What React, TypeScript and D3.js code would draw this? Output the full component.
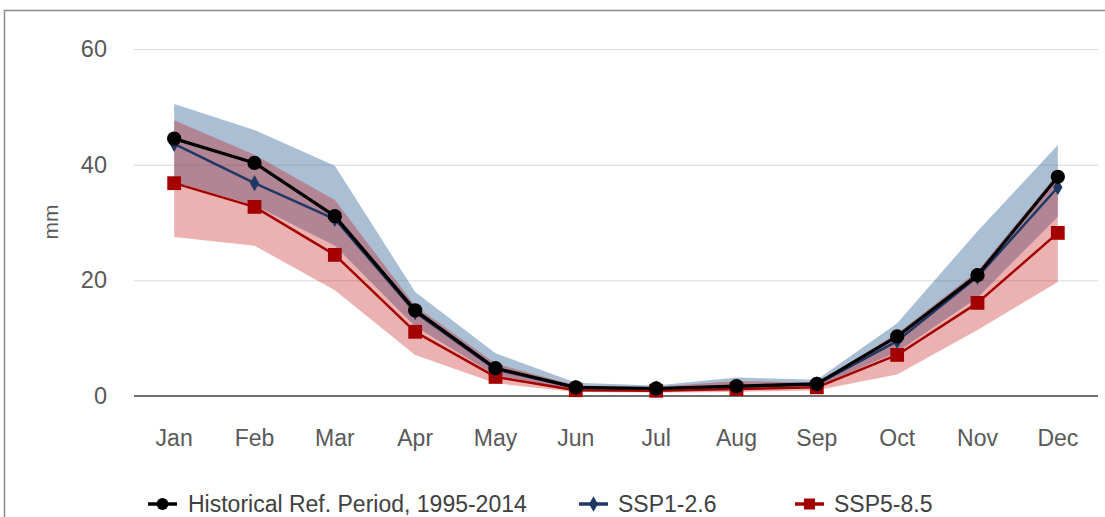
import React, { useRef, useEffect } from 'react';
import * as d3 from 'd3';

const months = ['Jan', 'Feb', 'Mar', 'Apr', 'May', 'Jun', 'Jul', 'Aug', 'Sep', 'Oct', 'Nov', 'Dec'];
const historical = [44.5, 40.3, 31.1, 14.8, 4.8, 1.5, 1.3, 1.7, 2.1, 10.3, 20.9, 37.9];
const ssp126 = [43.6, 36.8, 30.6, 14.5, 4.6, 1.4, 1.3, 1.6, 2.0, 9.5, 20.6, 36.1];
const ssp585 = [36.8, 32.7, 24.4, 11.1, 3.3, 1.0, 0.9, 1.2, 1.5, 7.1, 16.1, 28.2];
const ssp126Upper = [50.5, 46.0, 39.8, 18.0, 7.4, 2.3, 1.8, 3.2, 2.8, 12.6, 28.5, 43.4];
const ssp126Lower = [37.0, 33.0, 26.0, 12.0, 3.6, 1.1, 1.0, 1.3, 1.6, 7.6, 17.0, 31.0];
const ssp585Upper = [47.7, 41.7, 33.9, 15.6, 5.6, 1.8, 1.6, 2.6, 2.3, 10.8, 21.6, 38.5];
const ssp585Lower = [27.5, 26.0, 18.3, 7.1, 2.2, 0.7, 0.6, 0.7, 1.0, 3.7, 11.4, 19.7];
const yTicks = [0, 20, 40, 60];

const legendItems = [
  { label: 'Historical Ref. Period, 1995-2014', color: '#000000', shape: 'circle', x: 148 },
  { label: 'SSP1-2.6', color: '#1f3864', shape: 'diamond', x: 579 },
  { label: 'SSP5-8.5', color: '#a50000', shape: 'square', x: 795 },
];

const font = '"Liberation Sans", Arial, sans-serif';

const symbolFor = (shape: string) =>
  shape === 'circle' ? d3.symbolCircle : shape === 'diamond' ? d3.symbolDiamond : d3.symbolSquare;

export default function App() {
  const svgRef = useRef<SVGSVGElement>(null);

  useEffect(() => {
    const svg = d3.select(svgRef.current);
    svg.selectAll('*').remove();

    const x = d3.scaleBand().domain(months).range([134, 1098]).padding(0);
    const y = d3.scaleLinear().domain([0, 60]).range([396, 49]);
    const cx = (i: number) => (x(months[i]) as number) + x.bandwidth() / 2;

    // frame
    svg.append('rect')
      .attr('x', 4.5).attr('y', 10.5)
      .attr('width', 1110).attr('height', 600)
      .attr('fill', 'none')
      .attr('stroke', '#8a8a8a')
      .attr('stroke-width', 1.5);

    // gridlines + y labels
    const yAxis = d3.axisLeft(y).tickValues(yTicks).tickSize(-(1098 - 134)).tickPadding(27);
    const gy = svg.append('g').attr('transform', 'translate(134,0)').call(yAxis);
    gy.select('.domain').remove();
    gy.selectAll('.tick line')
      .attr('stroke', (d: any) => (d === 0 ? 'none' : '#d9d9d9'))
      .attr('stroke-width', 1);
    gy.selectAll('.tick text')
      .attr('fill', '#595959')
      .style('font-family', font)
      .style('font-size', '23.5px');

    // bands
    const area = (lo: number[], hi: number[]) =>
      d3.area<number>()
        .x((_, i) => cx(i))
        .y0((_, i) => y(lo[i]))
        .y1((_, i) => y(hi[i]))(months.map((_, i) => i));

    svg.append('path')
      .attr('d', area(ssp126Lower, ssp126Upper))
      .attr('fill', 'rgb(68,114,160)')
      .attr('fill-opacity', 0.45);
    svg.append('path')
      .attr('d', area(ssp585Lower, ssp585Upper))
      .attr('fill', 'rgb(192,0,0)')
      .attr('fill-opacity', 0.3);

    // zero line
    svg.append('line')
      .attr('x1', 134).attr('x2', 1098)
      .attr('y1', y(0)).attr('y2', y(0))
      .attr('stroke', '#404040')
      .attr('stroke-width', 1.5);

    // x labels
    const xAxis = d3.axisBottom(x).tickSize(0).tickPadding(34);
    const gx = svg.append('g').attr('transform', `translate(0,${y(0)})`).call(xAxis);
    gx.select('.domain').remove();
    gx.selectAll('.tick text')
      .attr('fill', '#595959')
      .style('font-family', font)
      .style('font-size', '23px');

    const lineGen = (vals: number[]) =>
      d3.line<number>().x((_, i) => cx(i)).y(v => y(v))(vals);

    const drawSeries = (vals: number[], color: string, width: number, shape: string) => {
      svg.append('path')
        .attr('d', lineGen(vals))
        .attr('fill', 'none')
        .attr('stroke', color)
        .attr('stroke-width', width)
        .attr('stroke-linejoin', 'round');
      const size = shape === 'circle' ? 160 : shape === 'diamond' ? 75 : 190;
      svg.append('g').selectAll('path')
        .data(vals)
        .join('path')
        .attr('transform', (v, i) => `translate(${cx(i)},${y(v)})`)
        .attr('d', d3.symbol().type(symbolFor(shape)).size(size)() as string)
        .attr('fill', color);
    };

    drawSeries(ssp585, '#a50000', 2.5, 'square');
    drawSeries(ssp126, '#1f3864', 2.5, 'diamond');
    drawSeries(historical, '#000000', 3.2, 'circle');

    // y label
    svg.append('text')
      .attr('transform', 'translate(58,222) rotate(-90)')
      .attr('text-anchor', 'middle')
      .attr('fill', '#595959')
      .style('font-family', font)
      .style('font-size', '21px')
      .text('mm');

    // legend (nudged up a little so descenders stay inside the page)
    const lg = svg.append('g');
    legendItems.forEach(item => {
      const g = lg.append('g').attr('transform', `translate(${item.x},504)`);
      g.append('line').attr('x1', 0).attr('x2', 29).attr('y1', 0).attr('y2', 0)
        .attr('stroke', item.color).attr('stroke-width', 3.5);
      const size = item.shape === 'circle' ? 110 : item.shape === 'diamond' ? 70 : 120;
      g.append('path')
        .attr('transform', 'translate(14.5,0)')
        .attr('d', d3.symbol().type(symbolFor(item.shape)).size(size)() as string)
        .attr('fill', item.color);
      g.append('text')
        .attr('x', item.shape === 'circle' ? 40 : 39)
        .attr('y', 8)
        .attr('fill', '#404040')
        .style('font-family', font)
        .style('font-size', '23px')
        .text(item.label);
    });
  }, []);

  return (
    <svg
      ref={svgRef}
      width={1105}
      height={517}
      style={{ position: 'absolute', left: 0, top: 0, background: '#fff' }}
    />
  );
}
